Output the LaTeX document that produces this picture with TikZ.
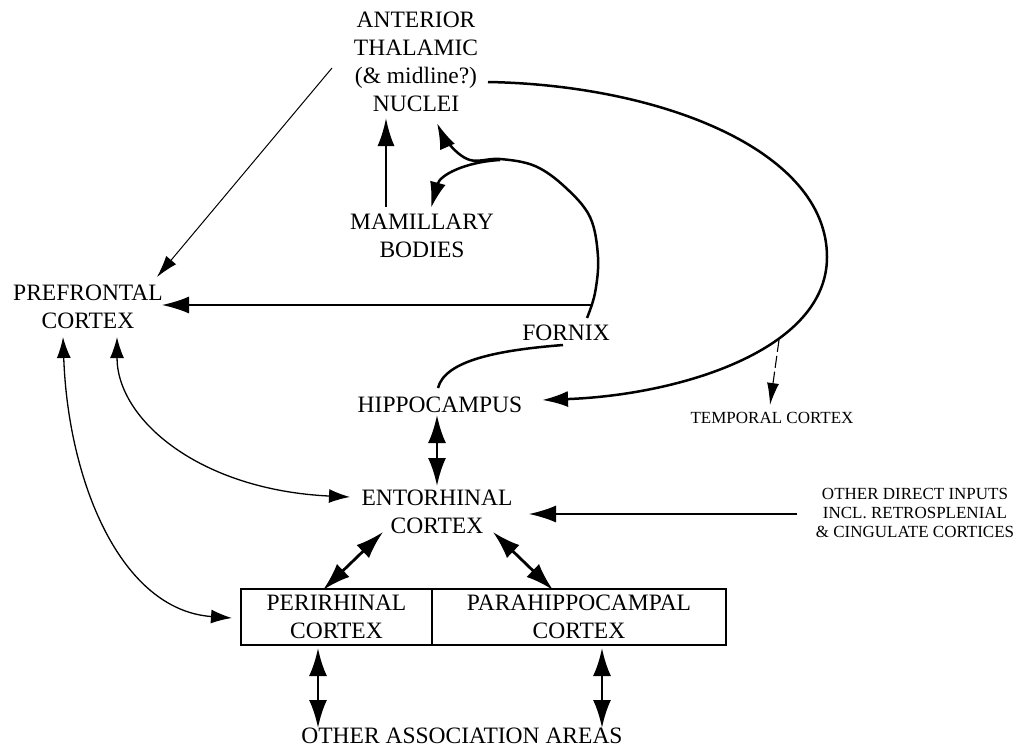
\documentclass[tikz,border=0pt]{standalone}
\usepackage{fontspec}
\setmainfont{Liberation Serif}
\usetikzlibrary{arrows.meta}
\begin{document}
\begin{tikzpicture}[x=1pt,y=-1pt,
  lbl/.style={align=center,inner sep=0pt,font=\fontsize{23.5}{27.8}\selectfont},
  slbl/.style={align=center,inner sep=0pt,font=\fontsize{17}{18.6}\selectfont},
  cell/.style={lbl,draw,line width=1.3pt,minimum height=56pt},
  thinarr/.style={line width=1pt,-{Latex[length=22pt,width=13pt]}},
  medarr/.style={line width=1.6pt,-{Latex[length=27pt,width=17pt]}},
  thinbi/.style={line width=1.3pt,{Latex[length=21pt,width=14pt]}-{Latex[length=21pt,width=14pt]}},
  heavyarr/.style={line width=2.6pt,-{Latex[length=28pt,width=17pt]}},
  heavybi/.style={line width=2.8pt,{Latex[length=28pt,width=18pt]}-{Latex[length=28pt,width=18pt]}},
  dasharr/.style={line width=1.1pt,dash pattern=on 12pt off 4pt,-{Latex[length=22pt,width=12pt]}},
  curvetip/.style={-{Latex[length=26pt,width=16pt]}},
  curve/.style={line width=2.5pt}]
\clip (0,0) rectangle (1026,747);
\path[use as bounding box] (0,0) rectangle (1026,747);

% nodes
\node[lbl] (ant) at (416,62) {ANTERIOR\\THALAMIC\\(\& midline?)\\NUCLEI};
\node[lbl] (mam) at (422,236) {MAMILLARY\\BODIES};
\node[lbl] (pfc) at (88,307) {PREFRONTAL\\CORTEX};
\node[lbl] (fornix) at (566,333) {FORNIX};
\node[lbl] (hip) at (440,405) {HIPPOCAMPUS};
\node[slbl] (tmp) at (772,418) {TEMPORAL CORTEX};
\node[lbl] (ent) at (437,512) {ENTORHINAL\\CORTEX};
\node[slbl] (oth) at (915,513) {OTHER DIRECT INPUTS\\INCL. RETROSPLENIAL\\\& CINGULATE CORTICES};
\node[cell,minimum width=191pt] (peri) at (336.5,617) {PERIRHINAL\\CORTEX};
\node[cell,minimum width=294pt] (para) at (579,617) {PARAHIPPOCAMPAL\\CORTEX};
\node[lbl,anchor=base] (assoc) at (462,743) {OTHER ASSOCIATION AREAS};

% connector end points
\coordinate (antL) at (332,68);
\coordinate (pfcNE) at (157,277);
\coordinate (pfcE) at (162,305);
\coordinate (antR) at (488,82);
\coordinate (hipE) at (542,400);
\coordinate (arcB) at (779,340);
\coordinate (tmpN) at (770,405);
\coordinate (mamN) at (386,207);
\coordinate (antS) at (386,118);
\coordinate (forT) at (587,318);
\coordinate (antSE) at (437,123);
\coordinate (forJ) at (500,160);
\coordinate (mamNE) at (431,208);
\coordinate (forH) at (592,305);
\coordinate (forB) at (563,345);
\coordinate (hipN) at (438,388);
\coordinate (hipS) at (437,415);
\coordinate (entN) at (437,486);
\coordinate (periN) at (323,590);
\coordinate (entSW) at (383,532);
\coordinate (entSE) at (493,532);
\coordinate (paraN) at (553,590);
\coordinate (othW) at (797,514);
\coordinate (entE) at (529,514);
\coordinate (pfcS2) at (117,337);
\coordinate (entW) at (350,497);
\coordinate (pfcS1) at (63,337);
\coordinate (periW) at (232,618);
\coordinate (periS) at (318,648);
\coordinate (assocN1) at (318,728);
\coordinate (paraS) at (602,648);
\coordinate (assocN2) at (602,728);

% connectors
\draw[thinarr] (antL) -- (pfcNE);
\draw[curve,curvetip] (antR) .. controls (660,85) and (827,150) .. (827,257)
   .. controls (827,350) and (680,395) .. (hipE);
\draw[dasharr] (arcB) -- (tmpN);
\draw[heavyarr] (mamN) -- (antS);
\draw[curve,curvetip] plot[smooth,tension=0.6] coordinates
   {(forT) (595,293) (598,257) (590,217) (565,187) (535,166) (500,159) (470,160) (449,144) (antSE)};
\draw[curve,curvetip] (forJ) .. controls (465,162) and (440,175) .. (mamNE);
\draw[medarr] (forH) -- (pfcE);
\draw[curve] (forB) .. controls (500,350) and (445,360) .. (hipN);
\draw[heavybi] (hipS) -- (entN);
\draw[heavybi] (periN) -- (entSW);
\draw[heavybi] (entSE) -- (paraN);
\draw[medarr] (othW) -- (entE);
\draw[thinbi] (pfcS2) .. controls (117,420) and (200,490) .. (entW);
\draw[thinbi] (pfcS1) .. controls (68,480) and (120,610) .. (periW);
\draw[heavybi] (periS) -- (assocN1);
\draw[heavybi] (paraS) -- (assocN2);
\end{tikzpicture}
\end{document}
